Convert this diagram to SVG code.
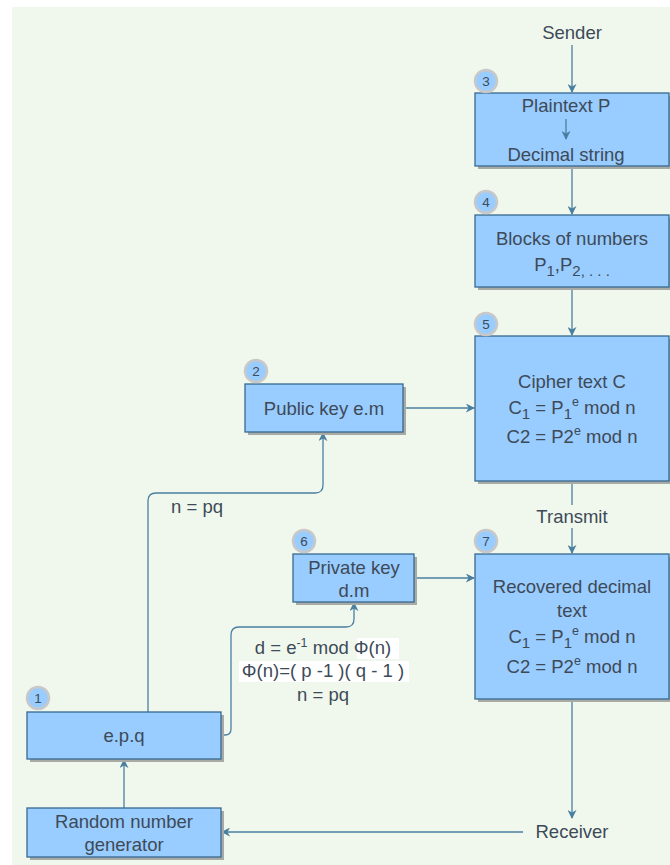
<svg xmlns="http://www.w3.org/2000/svg" width="670" height="865" viewBox="0 0 670 865">
<style>
text{font-family:"Liberation Sans",Arial,sans-serif;fill:#3d4a57;font-size:18.5px;text-anchor:middle}
.box{fill:#99ccff;stroke:#36698f;stroke-width:1.3}
.sh{fill:#a8aaa6}
.badge circle{fill:#99ccff;stroke:#c8c8c8;stroke-width:2.5}
.badge text{font-size:13.5px}
.c{fill:none;stroke:#4a7fa0;stroke-width:1.3}
.sub{font-size:15px}
.sup{font-size:12.5px}
</style>
<defs>
<marker id="ah" viewBox="0 0 10 10" refX="9" refY="5" markerWidth="9" markerHeight="9" markerUnits="userSpaceOnUse" orient="auto">
<path d="M0,0 L10,5 L0,10 L3,5 Z" fill="#4a7fa0"/>
</marker>
</defs>
<rect x="12" y="7" width="658" height="858" fill="#f0f8ee"/>

<g id="connectors">
<path class="c" d="M572,45 V92" marker-end="url(#ah)"/>
<path class="c" d="M572,167 V214" marker-end="url(#ah)"/>
<path class="c" d="M572,288 V335" marker-end="url(#ah)"/>
<path class="c" d="M404,408 H474" marker-end="url(#ah)"/>
<path class="c" d="M572,482 V505 M572,528 V553" marker-end="url(#ah)"/>
<path class="c" d="M415,578 H474" marker-end="url(#ah)"/>
<path class="c" d="M572,699 V818" marker-end="url(#ah)"/>
<path class="c" d="M523,832 H222" marker-end="url(#ah)"/>
<path class="c" d="M124,808 V760" marker-end="url(#ah)"/>
<path class="c" d="M148,712 V501 Q148,493 156,493 H315 Q323,493 323,485 V433" marker-end="url(#ah)"/>
<path class="c" d="M222,735 H225 Q231,735 231,729 V635 Q231,627 239,627 H346 Q354,627 354,619 V603" marker-end="url(#ah)"/>
<text x="572" y="39">Sender</text>
<text x="572" y="523">Transmit</text>
<text x="572" y="838">Receiver</text>
<text x="197" y="513">n = pq</text>
<rect x="357" y="638" width="42" height="21" fill="#ffffff"/>
<rect x="239" y="661" width="170" height="21" fill="#ffffff"/>
<text x="323" y="654">d = e<tspan class="sup" dy="-7">-1</tspan><tspan dy="7"> mod Φ(n)</tspan></text>
<text x="323" y="677">Φ(n)=( p -1 )( q - 1 )</text>
<text x="323" y="701">n = pq</text>
</g>

<g id="node3">
<rect class="sh" x="478" y="96" width="194" height="73"/>
<rect class="box" x="475" y="93" width="194" height="73"/>
<text x="566" y="112">Plaintext P</text>
<path class="c" d="M566,119 V139" marker-end="url(#ah)"/>
<text x="566" y="161">Decimal string</text>
<g class="badge"><circle cx="486" cy="81" r="11"/><text x="486" y="86">3</text></g>
</g>

<g id="node4">
<rect class="sh" x="478" y="218" width="194" height="72"/>
<rect class="box" x="475" y="215" width="194" height="72"/>
<text x="572" y="245">Blocks of numbers</text>
<text x="572" y="271">P<tspan class="sub" dy="5">1</tspan><tspan dy="-5">,P</tspan><tspan class="sub" dy="5">2, . . .</tspan></text>
<g class="badge"><circle cx="486" cy="202" r="11"/><text x="486" y="207">4</text></g>
</g>

<g id="node5">
<rect class="sh" x="478" y="339" width="194" height="145"/>
<rect class="box" x="475" y="336" width="194" height="145"/>
<text x="572" y="388">Cipher text C</text>
<text x="572" y="414">C<tspan class="sub" dy="5">1</tspan><tspan dy="-5"> = P</tspan><tspan class="sub" dy="5">1</tspan><tspan class="sup" dy="-13">e</tspan><tspan dy="8"> mod n</tspan></text>
<text x="572" y="443">C2 = P2<tspan class="sup" dy="-8">e</tspan><tspan dy="8"> mod n</tspan></text>
<g class="badge"><circle cx="486" cy="324" r="11"/><text x="486" y="329">5</text></g>
</g>

<g id="node7">
<rect class="sh" x="478" y="557" width="194" height="145"/>
<rect class="box" x="475" y="554" width="194" height="145"/>
<text x="572" y="593">Recovered decimal</text>
<text x="572" y="617">text</text>
<text x="572" y="643">C<tspan class="sub" dy="5">1</tspan><tspan dy="-5"> = P</tspan><tspan class="sub" dy="5">1</tspan><tspan class="sup" dy="-13">e</tspan><tspan dy="8"> mod n</tspan></text>
<text x="572" y="673">C2 = P2<tspan class="sup" dy="-8">e</tspan><tspan dy="8"> mod n</tspan></text>
<g class="badge"><circle cx="486" cy="541" r="11"/><text x="486" y="546">7</text></g>
</g>

<g id="node2">
<rect class="sh" x="248" y="387" width="158" height="48"/>
<rect class="box" x="245" y="384" width="158" height="48"/>
<text x="324" y="415">Public key e.m</text>
<g class="badge"><circle cx="256" cy="371" r="11"/><text x="256" y="376">2</text></g>
</g>

<g id="node6">
<rect class="sh" x="296" y="557" width="121" height="48"/>
<rect class="box" x="293" y="554" width="121" height="48"/>
<text x="354" y="574">Private key</text>
<text x="354" y="597">d.m</text>
<g class="badge"><circle cx="304" cy="541" r="11"/><text x="304" y="546">6</text></g>
</g>

<g id="node1">
<rect class="sh" x="30" y="715" width="194" height="47"/>
<rect class="box" x="27" y="712" width="194" height="47"/>
<text x="124" y="742">e.p.q</text>
<g class="badge"><circle cx="38" cy="698" r="11"/><text x="38" y="703">1</text></g>
</g>

<g id="node0">
<rect class="sh" x="30" y="811" width="194" height="49"/>
<rect class="box" x="27" y="808" width="194" height="49"/>
<text x="124" y="828">Random number</text>
<text x="124" y="851">generator</text>
</g>
</svg>
